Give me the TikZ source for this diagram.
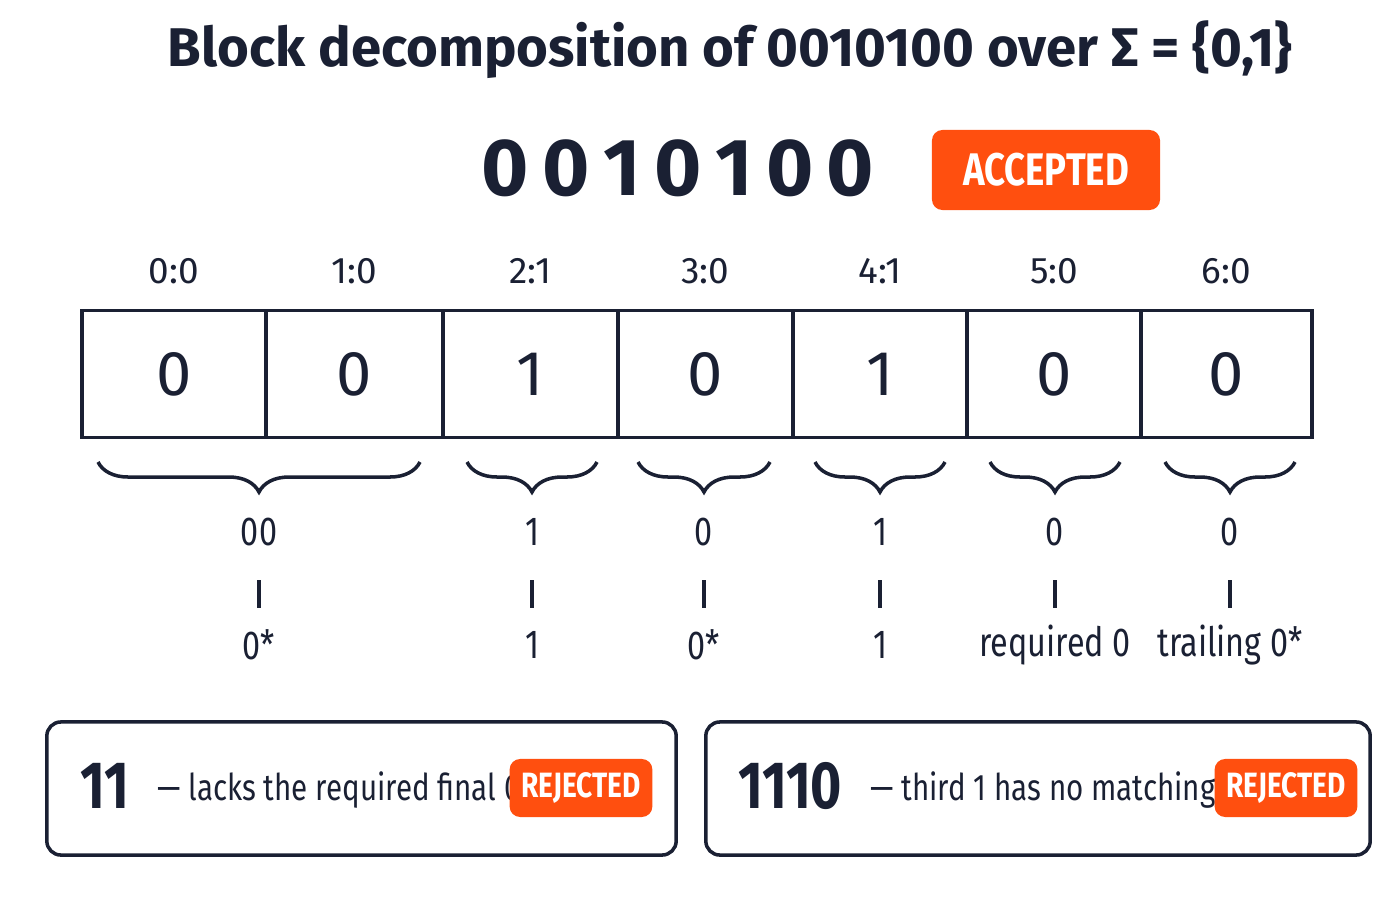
\documentclass[tikz,border=0pt]{standalone}
\usepackage{fontspec}
\setmainfont{Fira Sans}
\newfontfamily\narrow[FakeStretch=0.8]{Fira Sans}
\usetikzlibrary{decorations.pathreplacing}
\definecolor{ink}{HTML}{1A2033}
\definecolor{orng}{HTML}{FF4F0F}
\begin{document}
\begin{tikzpicture}[x=0.01cm,y=-0.01cm,
  cell/.style={draw=ink,line width=1.1pt,minimum width=#1*0.01cm,minimum height=1.27cm,inner sep=0,font=\fontsize{18}{22}\selectfont,text=ink},
  idx/.style={font=\fontsize{10.5}{13}\selectfont,text=ink},
  lab/.style={font=\narrow\fontsize{11.5}{13}\selectfont,text=ink},
  badge/.style={fill=orng,rounded corners=3pt,text=white,font=\narrow\bfseries\fontsize{10}{11}\selectfont,minimum height=0.58cm,minimum width=1.42cm},
  box/.style={draw=ink,line width=1pt,rounded corners=4pt,minimum height=1.33cm},
  br/.style={decorate,decoration={brace,mirror,amplitude=0.3cm},draw=ink,line width=1pt}]
\useasboundingbox (0,0) rectangle (1400,900);
\node[font=\bfseries\fontsize{15.5}{20}\selectfont,text=ink] (title) at (730,50) {Block decomposition of 0010100 over Σ = \{0,1\}};
\node[font=\bfseries\fontsize{23}{28}\selectfont,text=ink] (word) at (678,168) {0\,0\,1\,0\,1\,0\,0};
\node[badge,minimum width=2.28cm,minimum height=0.8cm,font=\narrow\bfseries\fontsize{13}{14}\selectfont] (acc) at (1046,170) {ACCEPTED};
\foreach \a/\b/\v/\i [count=\k] in {82/266/0/0,266/443/0/1,443/618/1/2,618/793/0/3,793/967/1/4,967/1141/0/5,1141/1312/0/6}{
  \pgfmathsetmacro\w{\b-\a}
  \node[cell=\w] (c\k) at ({(\a+\b)/2},374) {\v};
  \node[idx] (i\k) at ({(\a+\b)/2},271) {\i:\v};
}
\foreach \a/\b/\t/\u/\n in {98/420/00/0*/1,467/597/1/1/2,638/770/0/0*/3,815/945/1/1/4,990/1120/0/required 0/5,1165/1295/0/trailing 0*/6}{
  \coordinate (bl\n) at (\a,462);
  \coordinate (brr\n) at (\b,462);
  \draw[br] (bl\n) -- (brr\n);
  \node[lab] (t\n) at ({(\a+\b)/2},532) {\t};
  \node[lab] (u\n) at ({(\a+\b)/2},645) {\u};
  \coordinate (p\n) at ({(\a+\b)/2},580);
  \coordinate (q\n) at ({(\a+\b)/2},608);
  \draw[ink,line width=1pt] (p\n) -- (q\n);
}
\node[box,minimum width=6.29cm] (b1) at (361.5,788.5) {};
\node[box,minimum width=6.64cm] (b2) at (1038,788.5) {};
\node[anchor=west,text=ink,font=\narrow\bfseries\fontsize{19}{20}\selectfont] (n1) at (68,786) {11};
\node[anchor=west,text=ink,font=\narrow\fontsize{10.5}{12}\selectfont] (d1) at (145,790) {— lacks the required final 0};
\node[badge] (r1) at (581,788) {REJECTED};
\node[anchor=west,text=ink,font=\narrow\bfseries\fontsize{19}{20}\selectfont] (n2) at (726,786) {1110};
\node[anchor=west,text=ink,font=\narrow\fontsize{10.5}{12}\selectfont] (d2) at (858,790) {— third 1 has no matching block};
\node[badge] (r2) at (1286,788) {REJECTED};
\end{tikzpicture}
\end{document}
